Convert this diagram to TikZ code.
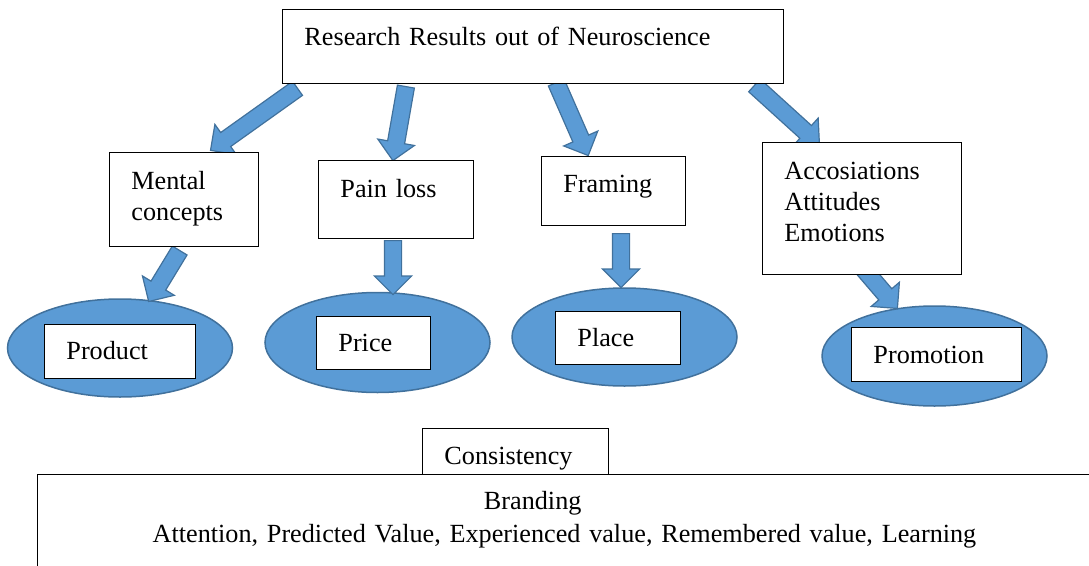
\documentclass[tikz,border=0pt]{standalone}
\usepackage{fontspec}
\setmainfont{Liberation Serif}
\usetikzlibrary{shapes.geometric,shapes.arrows,calc}

\definecolor{blobblue}{HTML}{5B9BD5}
\definecolor{blobedge}{HTML}{41719C}

\tikzset{
    box/.style={rectangle, draw=black, line width=0.9pt, fill=white, anchor=north west,
        inner xsep=22pt, inner ysep=0pt, align=left, text height=18pt},
    blob/.style={ellipse, draw=blobedge, line width=1.5pt, fill=blobblue, inner sep=0pt},
    blockarrow/.style={single arrow, draw=blobedge, line width=1.2pt, fill=blobblue,
        inner sep=8pt, single arrow head extend=10pt, anchor=tail}
}

\begin{document}
\begin{tikzpicture}[x=1pt, y=-1pt, font=\fontsize{26.2}{31}\selectfont]

    \useasboundingbox (0,0) rectangle (1089,565);
    \clip (0,0) rectangle (1089,565);

    % Blue ellipses for the four P's
    \foreach \i/\cx/\cy/\ry in {1/120/348/98, 2/377.5/342.5/100, 3/624.5/337/98, 4/934.5/356/100} {
        \node[blob, minimum width=225pt, minimum height=\ry pt] (E\i) at (\cx,\cy) {};
    }

    % Tails and tips of the block arrows
    \coordinate (s1) at (298,88);  \coordinate (t1) at (211,150);
    \coordinate (s2) at (406,86);  \coordinate (t2) at (393,160);
    \coordinate (s3) at (556,82);  \coordinate (t3) at (588,155);
    \coordinate (s4) at (754,85);  \coordinate (t4) at (819,144);
    \coordinate (s5) at (180,250); \coordinate (t5) at (149,301);
    \coordinate (s6) at (393,240); \coordinate (t6) at (393,294);
    \coordinate (s7) at (621,233); \coordinate (t7) at (621,287);
    \coordinate (s8) at (855,259); \coordinate (t8) at (897,308);

    % Block arrows
    \foreach \s/\t [count=\i] in {s1/t1, s2/t2, s3/t3, s4/t4, s5/t5, s6/t6, s7/t7, s8/t8} {
        \path let \p1 = ($(\t)-(\s)$), \n1 = {atan2(\y1,\x1)}, \n2 = {veclen(\x1,\y1)} in
            node[blockarrow, rotate=\n1, minimum height=\n2] (A\i) at (\s) {};
    }

    % Upper boxes
    \node[box, minimum width=501pt, minimum height=74pt, text width=457pt, text depth=20pt] (top) at (282,9) {Research Results out of Neuroscience};
    \node[box, minimum width=149pt, minimum height=94pt, text width=105pt, text depth=38pt] (mental) at (109,152) {Mental\\concepts};
    \node[box, minimum width=155pt, minimum height=78pt, text width=111pt, text depth=22pt] (pain) at (318,160) {Pain loss};
    \node[box, minimum width=144pt, minimum height=69pt, text width=100pt, text depth=15pt] (framing) at (541,156) {Framing};
    \node[box, minimum width=199pt, minimum height=132pt, text width=155pt, text depth=76pt] (assoc) at (762,142) {Accosiations\\Attitudes\\Emotions};

    % Boxes inside the ellipses
    \node[box, minimum width=151pt, minimum height=54pt, text width=107pt, text depth=2pt] (product) at (44,324) {Product};
    \node[box, minimum width=114pt, minimum height=53pt, text width=70pt, text depth=1pt] (price) at (316,316) {Price};
    \node[box, minimum width=125pt, minimum height=53pt, text width=81pt, text depth=0pt] (place) at (555,311) {Place};
    \node[box, minimum width=170pt, minimum height=54pt, text width=126pt, text depth=0pt] (promotion) at (851,327) {Promotion};

    % Bottom boxes
    \node[box, minimum width=186pt, minimum height=46pt, text width=142pt, text height=26pt, text depth=0pt] (consistency) at (422,428) {Consistency};
    \node[box, align=center, minimum width=1054pt, minimum height=110pt, text width=1010pt, text depth=58pt] (branding) at (37,474)
        {\makebox[161pt][l]{Branding}\\[2pt]Attention, Predicted Value, Experienced value, Remembered value, Learning};

\end{tikzpicture}
\end{document}
